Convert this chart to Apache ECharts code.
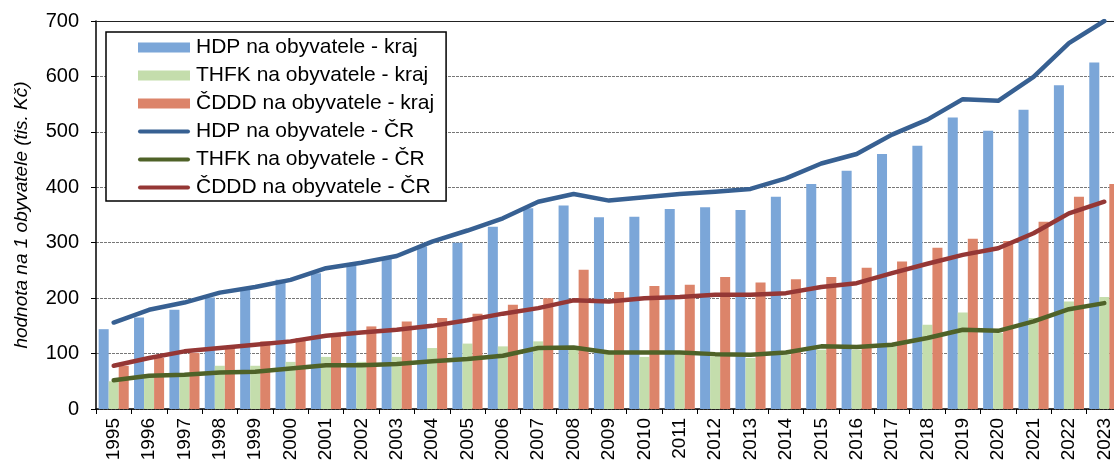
<!DOCTYPE html>
<html>
<head>
<meta charset="utf-8">
<script src="https://cdn.jsdelivr.net/npm/echarts@6/dist/echarts.min.js"></script>
<style>
  html, body { margin: 0; padding: 0; background: #fff; overflow: hidden; }
  #chart { width: 1122px; height: 468px; }
</style>
</head>
<body>
<div id="chart"></div>
<script>
// roky
const years = ['1995','1996','1997','1998','1999','2000','2001','2002','2003','2004','2005','2006','2007','2008','2009',
  '2010','2011','2012','2013','2014','2015','2016','2017','2018','2019','2020','2021','2022','2023'];

// kraj (sloupce)
const hdpKraj = [144,165,179,201,215,233,245,259,272,293,300,329,362,367,346,347,361,364,359,383,406,430,460,475,526,502,540,584,625];
const thfkKraj = [50,58,60,78,78,85,94,85,94,110,118,113,122,110,100,94,98,95,92,98,107,107,113,152,174,137,164,194,202];
const cdddKraj = [78,92,101,113,122,128,134,149,158,164,172,188,200,251,211,222,224,238,228,234,238,255,266,291,307,303,338,383,406];

// ČR (čáry)
const hdpCR = [156,179,192,210,220,233,254,264,276,302,322,344,374,388,376,382,388,392,397,416,443,460,495,522,559,556,599,660,700];
const thfkCR = [52,60,62,66,67,73,79,79,81,86,90,96,110,111,102,102,102,99,98,102,113,112,116,128,143,141,158,180,191];
const cdddCR = [78,92,104,110,116,122,132,138,143,150,160,172,182,196,194,200,202,206,206,209,220,227,245,262,278,290,317,353,374];

const yTicks = { min: 0, max: 700, interval: 100 };

// ikona čáry v legendě (zaoblené konce)
const lineIcon = 'path://M2,0 L50,0 A2,2 0 0 1 50,4 L2,4 A2,2 0 0 1 2,0 Z';

let chart = echarts.init(document.getElementById('chart'));

function barSeries (name, data, color) {
  return {
    name: name,
    type: 'bar',
    data: data,
    barGap: '0%',
    barCategoryGap: '15%',
    itemStyle: { color: color },
    z: 2
  };
}

function lineSeries (name, data, color) {
  return {
    name: name,
    type: 'line',
    data: data,
    symbol: 'none',
    lineStyle: { color: color, width: 4.5, cap: 'round', join: 'round' },
    itemStyle: { color: color },
    z: 5
  };
}

let option = {
  animation: false,
  textStyle: { fontFamily: 'Liberation Sans, Arial, sans-serif' },
  grid: { left: 96, right: 0, top: 21, bottom: 59, containLabel: false },
  legend: {
    orient: 'vertical',
    left: 106,
    top: 32,
    padding: [5, 12, 3, 32],
    itemGap: 7,
    itemWidth: 52,
    itemHeight: 10,
    borderColor: '#000',
    borderWidth: 1.5,
    backgroundColor: '#fff',
    textStyle: { fontSize: 21, lineHeight: 20, color: '#000', fontFamily: 'Liberation Sans, Arial, sans-serif', padding: [0, 0, 0, 1] },
    data: [
      { name: 'HDP na obyvatele - kraj', icon: 'rect' },
      { name: 'THFK na obyvatele - kraj', icon: 'rect' },
      { name: 'ČDDD na obyvatele - kraj', icon: 'rect' },
      { name: 'HDP na obyvatele - ČR', icon: lineIcon },
      { name: 'THFK na obyvatele - ČR', icon: lineIcon },
      { name: 'ČDDD na obyvatele - ČR', icon: lineIcon }
    ]
  },
  xAxis: [
    {
      type: 'category',
      data: years,
      boundaryGap: true,
      axisLine: { lineStyle: { color: '#000', width: 1.5 } },
      axisTick: { show: true, length: 5, lineStyle: { color: '#000' } },
      axisLabel: { rotate: 90, fontSize: 19, color: '#000', margin: 9 }
    },
    {
      type: 'category',
      data: years,
      position: 'top',
      axisLine: { show: true, lineStyle: { color: '#222', width: 1.2 } },
      axisTick: { show: false },
      axisLabel: { show: false }
    }
  ],
  yAxis: {
    type: 'value',
    min: yTicks.min,
    max: yTicks.max,
    interval: yTicks.interval,
    name: 'hodnota na 1 obyvatele (tis. Kč)',
    nameLocation: 'middle',
    nameGap: 65,
    nameTextStyle: { fontSize: 19, fontStyle: 'italic', color: '#000' },
    axisLine: { show: true, lineStyle: { color: '#000', width: 1.5 } },
    axisTick: { show: true, length: 5, lineStyle: { color: '#000' } },
    axisLabel: { fontSize: 20, color: '#000', margin: 17 },
    splitLine: { show: true, lineStyle: { color: '#777', type: [3, 1], width: 1 } }
  },
  series: [
    barSeries('HDP na obyvatele - kraj', hdpKraj, '#7BA6D8'),
    barSeries('THFK na obyvatele - kraj', thfkKraj, '#C4DDAC'),
    barSeries('ČDDD na obyvatele - kraj', cdddKraj, '#DC846A'),
    lineSeries('HDP na obyvatele - ČR', hdpCR, '#376092'),
    lineSeries('THFK na obyvatele - ČR', thfkCR, '#4F6228'),
    lineSeries('ČDDD na obyvatele - ČR', cdddCR, '#953735')
  ]
};

chart.setOption(option);
</script>
</body>
</html>
